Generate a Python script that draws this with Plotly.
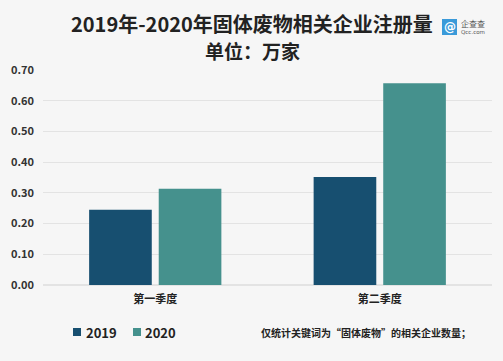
import plotly.graph_objects as go

categories = ["第一季度", "第二季度"]
series_names = ["2019", "2020"]
values_2019 = [0.245, 0.352]
values_2020 = [0.313, 0.657]
tick_vals = [0, 0.1, 0.2, 0.3, 0.4, 0.5, 0.6, 0.7]
tick_text = ["0.00", "0.10", "0.20", "0.30", "0.40", "0.50", "0.60", "0.70"]

colors = ["#174f70", "#45918d"]
FONT = "Noto Sans CJK SC"

L, R, T, B = 43, 11, 70, 76
PW = 503 - L - R
PH = 361 - T - B


def px(x):
    return (x - L) / PW


def py(y):
    return (361 - B - y) / PH


fig = go.Figure()
for name, vals, c in zip(series_names, [values_2019, values_2020], colors):
    fig.add_trace(go.Bar(x=categories, y=vals, name=name, showlegend=False,
                         marker=dict(color=c, line=dict(width=0))))

fig.update_layout(
    width=503, height=361,
    margin=dict(l=L, r=R, t=T, b=B, autoexpand=False),
    paper_bgcolor="#f6f6f6", plot_bgcolor="#f6f6f6",
    barmode="group", bargap=0.38, bargroupgap=0.1,
    font=dict(family=FONT, color="#333333", size=12),
    showlegend=False,
    xaxis=dict(showgrid=False, showline=False, ticks="", ticklabelstandoff=6,
               tickfont=dict(size=11, color="#222222")),
    yaxis=dict(range=[0, 0.7], tickvals=tick_vals, ticktext=tick_text, showgrid=True,
               gridcolor="#e3e3e3", gridwidth=1, zeroline=True, zerolinecolor="#e3e3e3",
               ticks="", ticklabelstandoff=8, tickfont=dict(size=11, color="#333333")),
)
fig.update_xaxes(tickvals=categories, ticktext=["<b>" + c + "</b>" for c in categories])
fig.update_yaxes(ticktext=["<b>" + t + "</b>" for t in tick_text])

fig.add_annotation(text="<b>2019年-2020年固体废物相关企业注册量</b>", xref="paper", yref="paper",
                   x=px(252), y=py(24), xanchor="center", yanchor="middle",
                   showarrow=False, font=dict(size=20, color="#222222"))
fig.add_annotation(text="<b>单位：万家</b>", xref="paper", yref="paper",
                   x=px(252), y=py(50), xanchor="center", yanchor="middle",
                   showarrow=False, font=dict(size=19, color="#222222"))
# logo
fig.add_shape(type="rect", xref="paper", yref="paper",
              x0=px(442), x1=px(457), y0=py(35), y1=py(19),
              fillcolor="#3a9ad9", line=dict(width=0))
fig.add_annotation(text="<b>@</b>", xref="paper", yref="paper",
                   x=px(449.5), y=py(27), xanchor="center", yanchor="middle",
                   showarrow=False, font=dict(size=12, color="white", family="DejaVu Sans"))
fig.add_annotation(text="企查查", xref="paper", yref="paper",
                   x=px(459), y=py(23), xanchor="left", yanchor="middle",
                   showarrow=False, font=dict(size=8, color="#555555"))
fig.add_annotation(text="Qcc.com", xref="paper", yref="paper",
                   x=px(459), y=py(31.5), xanchor="left", yanchor="middle",
                   showarrow=False, font=dict(size=5.5, color="#555555", family="DejaVu Sans"))

# legend
legend_pos = [(73, 84), (133, 143)]
for (sx, tx), name, c in zip(legend_pos, series_names, colors):
    fig.add_shape(type="rect", xref="paper", yref="paper",
                  x0=px(sx), x1=px(sx + 8), y0=py(336), y1=py(328),
                  fillcolor=c, line=dict(width=0))
    fig.add_annotation(text="<b>" + name + "</b>", xref="paper", yref="paper",
                       x=px(tx), y=py(332), xanchor="left", yanchor="middle",
                       showarrow=False, font=dict(size=13, color="#222222"))

fig.add_annotation(text="<b>仅统计关键词为“固体废物”的相关企业数量；</b>", xref="paper", yref="paper",
                   x=px(473), y=py(332), xanchor="right", yanchor="middle",
                   showarrow=False, font=dict(size=10, color="#222222"))

fig.write_html("out.html", config={"displayModeBar": False},
               post_script="document.body.style.margin='0';document.body.style.padding='0';")
